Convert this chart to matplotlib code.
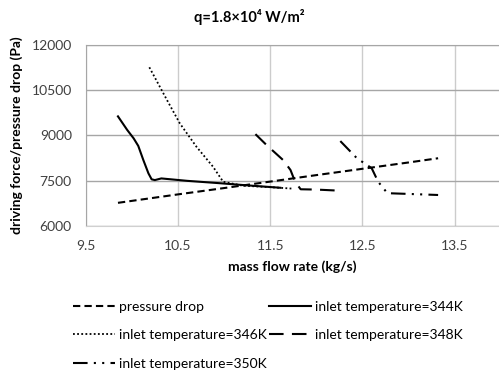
import matplotlib
matplotlib.use("Agg")
import matplotlib.pyplot as plt

plt.rcParams['font.family'] = ['Lato', 'DejaVu Sans']

# Data
x_pd = [9.85, 10.5, 11.0, 11.5, 12.0, 12.5, 13.0, 13.32]
y_pd = [6760, 7040, 7250, 7465, 7680, 7890, 8100, 8240]

x_344 = [9.85, 9.95, 10.02, 10.07, 10.125, 10.18, 10.215, 10.25, 10.32, 10.6, 10.96, 11.25, 11.61]
y_344 = [9630, 9180, 8900, 8650, 8180, 7740, 7540, 7515, 7570, 7490, 7410, 7340, 7260]

x_346 = [10.19, 10.38, 10.52, 10.70, 10.88, 10.99, 11.2, 11.5, 11.75]
y_346 = [11260, 10180, 9400, 8625, 7960, 7460, 7330, 7280, 7230]

x_348 = [11.34, 11.46, 11.64, 11.72, 11.77, 11.83, 12.0, 12.24]
y_348 = [9040, 8680, 8180, 7850, 7460, 7210, 7200, 7165]

x_350 = [12.26, 12.44, 12.60, 12.67, 12.77, 13.05, 13.32]
y_350 = [8810, 8240, 7910, 7460, 7080, 7050, 7020]

labels = ["pressure drop", "inlet temperature=344K", "inlet temperature=346K",
          "inlet temperature=348K", "inlet temperature=350K"]
xticks = [9.5, 10.5, 11.5, 12.5, 13.5]
yticks = [6000, 7500, 9000, 10500, 12000]

fig = plt.figure(figsize=(4.99, 3.71), dpi=100)
ax = fig.add_axes([0.1717, 0.3916, 1.0 - 0.1717, 0.8787 - 0.3916])

lw = 1.5
ax.plot(x_pd, y_pd, color='black', lw=lw, linestyle=(0, (3.5, 2)), label=labels[0])
ax.plot(x_344, y_344, color='black', lw=lw, linestyle='-', label=labels[1])
ax.plot(x_346, y_346, color='black', lw=1.3, linestyle=(0, (1, 1.3)), label=labels[2])
ax.plot(x_348, y_348, color='black', lw=lw, linestyle=(0, (7, 4)), label=labels[3])
ax.plot(x_350, y_350, color='black', lw=lw, linestyle=(0, (7, 3, 1, 3, 1, 3)), label=labels[4])

ax.set_xlim(9.5, 13.98)
ax.set_ylim(6000, 12000)
ax.set_xticks(xticks)
ax.set_xticklabels([str(t) for t in xticks])
ax.set_yticks(yticks)
ax.set_yticklabels([str(t) for t in yticks])
ax.tick_params(length=0, labelsize=10, colors='#404040', pad=10)
ax.grid(axis='y', color='#a6a6a6', lw=1)
ax.grid(axis='x', color='#cccccc', lw=1)
ax.set_axisbelow(True)
ax.spines['right'].set_visible(False)
for s in ['left', 'top']:
    ax.spines[s].set_color('#a6a6a6')
ax.spines['bottom'].set_color('#d0d0d0')

ax.set_xlabel("mass flow rate (kg/s)", fontsize=10, fontweight='bold', labelpad=6)
ax.set_ylabel("driving force/pressure drop (Pa)", fontsize=10, fontweight='bold', labelpad=6)
fig.text(0.5, 0.955, "q=1.8×10⁴ W/m²", ha='center', va='center', fontsize=10.5,
         fontweight='bold', family=['Lato', 'DejaVu Sans'])

h, l = ax.get_legend_handles_labels()
order = [0, 2, 4, 1, 3]
fig.legend([h[i] for i in order], [l[i] for i in order], loc='upper left',
           bbox_to_anchor=(0.135, 0.204), ncol=2, frameon=False,
           fontsize=10, handlelength=3.0, handletextpad=0.3, columnspacing=0.2,
           labelspacing=1.18, borderaxespad=0)

fig.savefig("out.png", dpi=100)
